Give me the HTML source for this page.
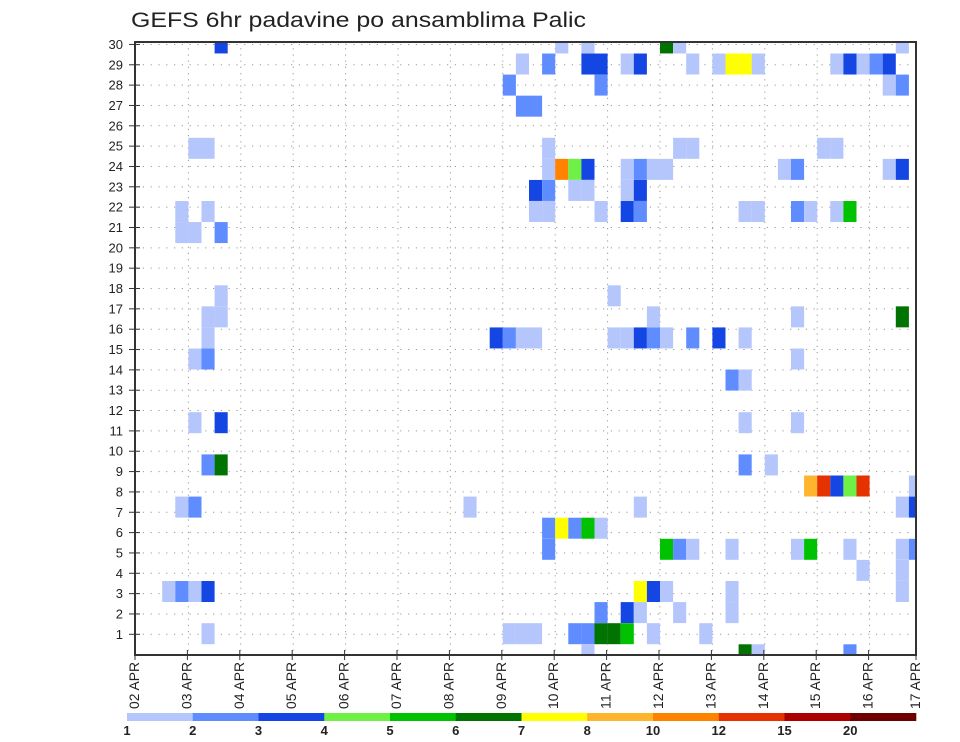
<!DOCTYPE html>
<html><head><meta charset="utf-8"><style>
html,body{margin:0;padding:0;background:#fff;}
svg{display:block;font-family:"Liberation Sans",sans-serif;}
</style></head><body>
<svg id="chart" width="960" height="742" viewBox="0 0 960 742" xmlns="http://www.w3.org/2000/svg">
<text x="131" y="27" font-size="21" fill="#222" textLength="455" lengthAdjust="spacingAndGlyphs">GEFS 6hr padavine po ansamblima Palic</text>
<defs><clipPath id="plotclip"><rect x="135" y="42" width="781" height="613"/></clipPath></defs>
<g id="grid"></g>
<g id="cells" clip-path="url(#plotclip)"></g>
<rect x="135" y="42" width="781" height="613" fill="none" stroke="#333" stroke-width="2"/>
<g id="yaxis"></g>
<g id="xaxis"></g>
<g id="legend"></g>
</svg>
<script>
// ---- data ----
const dayLabels = ["02 APR","03 APR","04 APR","05 APR","06 APR","07 APR","08 APR","09 APR","10 APR","11 APR","12 APR","13 APR","14 APR","15 APR","16 APR","17 APR"];
const memberLabels = [1,2,3,4,5,6,7,8,9,10,11,12,13,14,15,16,17,18,19,20,21,22,23,24,25,26,27,28,29,30];
const legendThresholds = [1,2,3,4,5,6,7,8,10,12,15,20];
const legendColors = ["#b4c6fc","#5f8cff","#1446e4","#6ef046","#00c200","#007300","#ffff00","#ffb42e","#ff8200","#e63200","#aa0000","#6e0000"];
// cells: member row, 6-hour step index, precipitation value (mm)
const cellMember = [
30,30,30,30,30,30,
29,29,29,29,29,29,29,29,29,29,29,29,29,29,29,29,
28,28,28,28,
27,27,
25,25,25,25,25,25,25,
24,24,24,24,24,24,24,24,24,24,24,24,
23,23,23,23,23,23,
22,22,22,22,22,22,22,22,22,22,22,22,22,
21,21,21,
18,18,
17,17,17,17,17,
16,16,16,16,16,16,16,16,16,16,16,16,16,
15,15,15,
14,14,
11,11,11,11,
9,9,9,9,
8,8,8,8,8,8,
7,7,7,7,7,7,
6,6,6,6,6,
5,5,5,5,5,5,5,5,5,5,
4,4,
3,3,3,3,3,3,3,3,3,
2,2,2,2,2,
1,1,1,1,1,1,1,1,1,1,1,
0,0,0,0];
const cellStep = [
6,32,34,40,41,58,
29,31,34,35,37,38,42,44,45,46,47,53,54,55,56,57,
28,35,57,58,
29,30,
4,5,31,41,42,52,53,
31,32,33,34,37,38,39,40,49,50,57,58,
30,31,33,34,37,38,
3,5,30,31,35,37,38,46,47,50,51,53,54,
3,4,6,
6,36,
5,6,39,50,58,
5,27,28,29,30,36,37,38,39,40,42,44,46,
4,5,50,
45,46,
4,6,46,50,
5,6,46,48,
51,52,53,54,55,59,
3,4,25,38,58,59,
31,32,33,34,35,
31,40,41,42,45,50,51,54,58,59,
55,58,
2,3,4,5,38,39,40,45,58,
35,37,38,41,45,
5,28,29,30,33,34,35,36,37,39,43,
34,46,47,54];
const cellValue = [
3.5,1.5,1.5,6.5,1.5,1.5,
1.5,2.5,3.5,3.5,1.5,3.5,1.5,1.5,7.5,7.5,1.5,1.5,3.5,1.5,2.5,3.5,
2.5,2.5,1.5,2.5,
2.5,2.5,
1.5,1.5,1.5,1.5,1.5,1.5,1.5,
1.5,11,4.5,3.5,1.5,2.5,1.5,1.5,1.5,2.5,1.5,3.5,
3.5,2.5,1.5,1.5,1.5,3.5,
1.5,1.5,1.5,1.5,1.5,3.5,2.5,1.5,1.5,2.5,1.5,1.5,5.5,
1.5,1.5,2.5,
1.5,1.5,
1.5,1.5,1.5,1.5,6.5,
1.5,3.5,2.5,1.5,1.5,1.5,1.5,3.5,2.5,1.5,2.5,3.5,1.5,
1.5,2.5,1.5,
2.5,1.5,
1.5,3.5,1.5,1.5,
2.5,6.5,2.5,1.5,
9,13.5,3.5,4.5,13.5,1.5,
1.5,2.5,1.5,1.5,1.5,3.5,
2.5,7.5,2.5,5.5,1.5,
2.5,5.5,2.5,1.5,1.5,1.5,5.5,1.5,1.5,2.5,
1.5,1.5,
1.5,2.5,1.5,3.5,7.5,3.5,1.5,1.5,1.5,
2.5,3.5,1.5,1.5,1.5,
1.5,1.5,1.5,1.5,2.5,2.5,6.5,6.5,5.5,1.5,1.5,
1.5,6.5,1.5,2.5];

// ---- scales ----
const NS = "http://www.w3.org/2000/svg";
const PL = 135, PR = 916, PT = 42, PB = 655;
const X0 = 136, STEP_W = 13.1, DAY_W = STEP_W * 4;
function xStep(k){ return X0 + k * STEP_W; }
function xDay(d){ return X0 + d * DAY_W; }
function yLabel(m){ return 634.3 - (m - 1) * 20.34; }
function yCellCenter(m){ return m >= 12 ? 359 + (15 - m) * 21.07 : 633.7 - (m - 1) * 21.1; }
const CELL_H = 21;
function colorFor(v){
  let c = null;
  for (let i = 0; i < legendThresholds.length; i++) if (v >= legendThresholds[i]) c = legendColors[i];
  return c;
}
function mk(tag, attrs, parent){
  const el = document.createElementNS(NS, tag);
  for (const k in attrs) el.setAttribute(k, attrs[k]);
  parent.appendChild(el);
  return el;
}

// grid
const grid = document.getElementById('grid');
memberLabels.forEach(m => {
  const y = yLabel(m);
  const l = mk('line', {x1:PL, x2:PR, y1:y, y2:y, stroke:'#999', 'stroke-width':1, 'stroke-dasharray':'1.2,6.6'}, grid);
  
  
});
dayLabels.forEach((d, i) => {
  const x = xDay(i);
  if (x <= PL + 2 || x >= PR - 2) return;
  const l = mk('line', {x1:x, x2:x, y1:PT, y2:PB, stroke:'#999', 'stroke-width':1, 'stroke-dasharray':'1.2,5'}, grid);
  
  
});

// cells
const cells = document.getElementById('cells');
for (let i = 0; i < cellValue.length; i++) {
  const r = mk('rect', {x: xStep(cellStep[i]), y: yCellCenter(cellMember[i]) - CELL_H/2, width: STEP_W, height: CELL_H, fill: colorFor(cellValue[i])}, cells);
  
  
}

// y axis
const ya = document.getElementById('yaxis');
memberLabels.forEach(m => {
  const y = yLabel(m);
  const t = mk('line', {x1:PL-6, x2:PL+5, y1:y, y2:y, stroke:'#333', 'stroke-width':1}, ya);
  
  
  const tx = mk('text', {x:123, y:y+4.5, 'text-anchor':'end', 'font-size':13, fill:'#222'}, ya);
  tx.textContent = m;
  
  
});

// x axis
const xa = document.getElementById('xaxis');
dayLabels.forEach((d, i) => {
  let x = Math.min(xDay(i) - 1, PR);
  const t = mk('line', {x1:x, x2:x, y1:PB-5, y2:PB+5, stroke:'#333', 'stroke-width':1}, xa);
  
  
  const lx = x + 4;
  const tx = mk('text', {x:lx, y:709, 'font-size':13.5, fill:'#222', transform:`rotate(-90 ${lx} 709)`, textLength:47, lengthAdjust:'spacingAndGlyphs'}, xa);
  tx.textContent = d;
  
  
});

// legend
const lg = document.getElementById('legend');
const LX = 127, LW = 65.75;
legendColors.forEach((c, i) => {
  const r = mk('rect', {x: LX + i*LW, y: 713, width: LW + 0.3, height: 8, fill: c}, lg);
  
  
  const tx = mk('text', {x: LX + i*LW, y: 735, 'text-anchor':'middle', 'font-size':13, 'font-weight':'bold', fill:'#222'}, lg);
  tx.textContent = legendThresholds[i];
  
  
});
</script>
</body></html>
